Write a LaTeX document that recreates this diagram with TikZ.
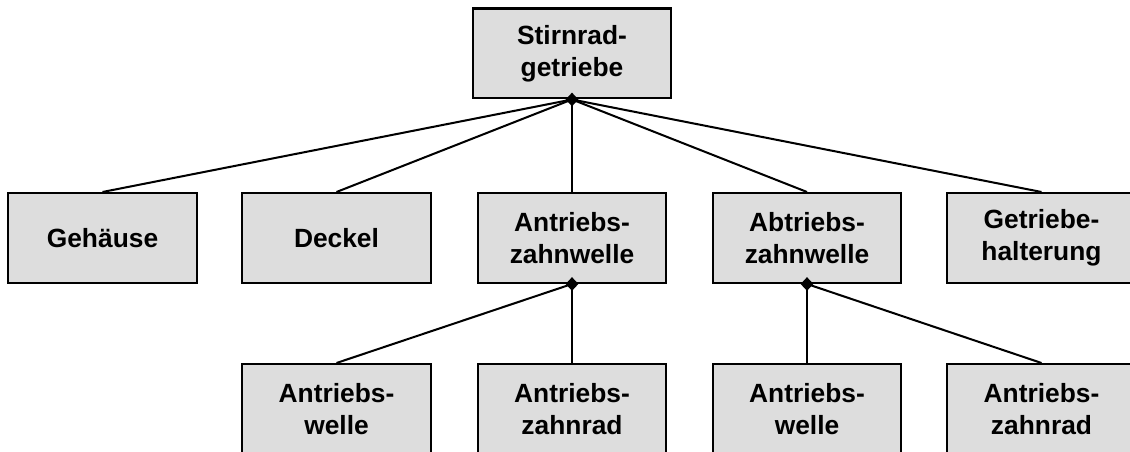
\documentclass[tikz,border=0pt]{standalone}
\usepackage{fontspec}
\setmainfont{Liberation Sans}
\usepackage{xcolor}
\usetikzlibrary{shapes.geometric}
\definecolor{partgray}{HTML}{DDDDDD}

\begin{document}
\begin{tikzpicture}[
  x=0.02cm, y=-0.02cm,
  font=\fontsize{15}{18}\selectfont\bfseries,
  part/.style={draw, fill=partgray, line width=1.15pt, align=center,
    minimum width=3.78cm, minimum height=1.8cm, inner sep=2pt},
  agg/.style={diamond, fill=black, inner sep=0pt,
    minimum width=0.26cm, minimum height=0.28cm},
  link/.style={line width=1.15pt}
]
\useasboundingbox (0,0) rectangle (1130,452);
\clip (0,0) rectangle (1130,452);

% ── Top: assembly ──
\node[part, minimum width=3.96cm] (getriebe) at (572,53.5) {Stirnrad-\\getriebe};

% ── Middle row: sub-assemblies and parts ──
\node[part] (gehaeuse) at (102.5,238) {Gehäuse};
\node[part] (deckel)   at (336.5,238) {Deckel};
\node[part] (antrwelle) at (572,238) {Antriebs-\\zahnwelle};
\node[part] (abtrwelle) at (807,238) {Abtriebs-\\zahnwelle};
\node[part] (halter)   at (1041.5,238) {Getriebe-\\halterung};

% ── Bottom row ──
\node[part] (anwelle1) at (336.5,409) {Antriebs-\\welle};
\node[part] (anrad1)   at (572,409) {Antriebs-\\zahnrad};
\node[part] (anwelle2) at (807,409) {Antriebs-\\welle};
\node[part] (anrad2)   at (1041.5,409) {Antriebs-\\zahnrad};

% ── Aggregation points ──
\node[agg] (getriebe-d)  at (getriebe.south) {};
\node[agg] (antrwelle-d) at (antrwelle.south) {};
\node[agg] (abtrwelle-d) at (abtrwelle.south) {};

% ── Links ──
\draw[link] (getriebe-d.center) -- (gehaeuse.north);
\draw[link] (getriebe-d.center) -- (deckel.north);
\draw[link] (getriebe-d.center) -- (antrwelle.north);
\draw[link] (getriebe-d.center) -- (abtrwelle.north);
\draw[link] (getriebe-d.center) -- (halter.north);

\draw[link] (antrwelle-d.center) -- (anwelle1.north);
\draw[link] (antrwelle-d.center) -- (anrad1.north);

\draw[link] (abtrwelle-d.center) -- (anwelle2.north);
\draw[link] (abtrwelle-d.center) -- (anrad2.north);

\end{tikzpicture}
\end{document}
